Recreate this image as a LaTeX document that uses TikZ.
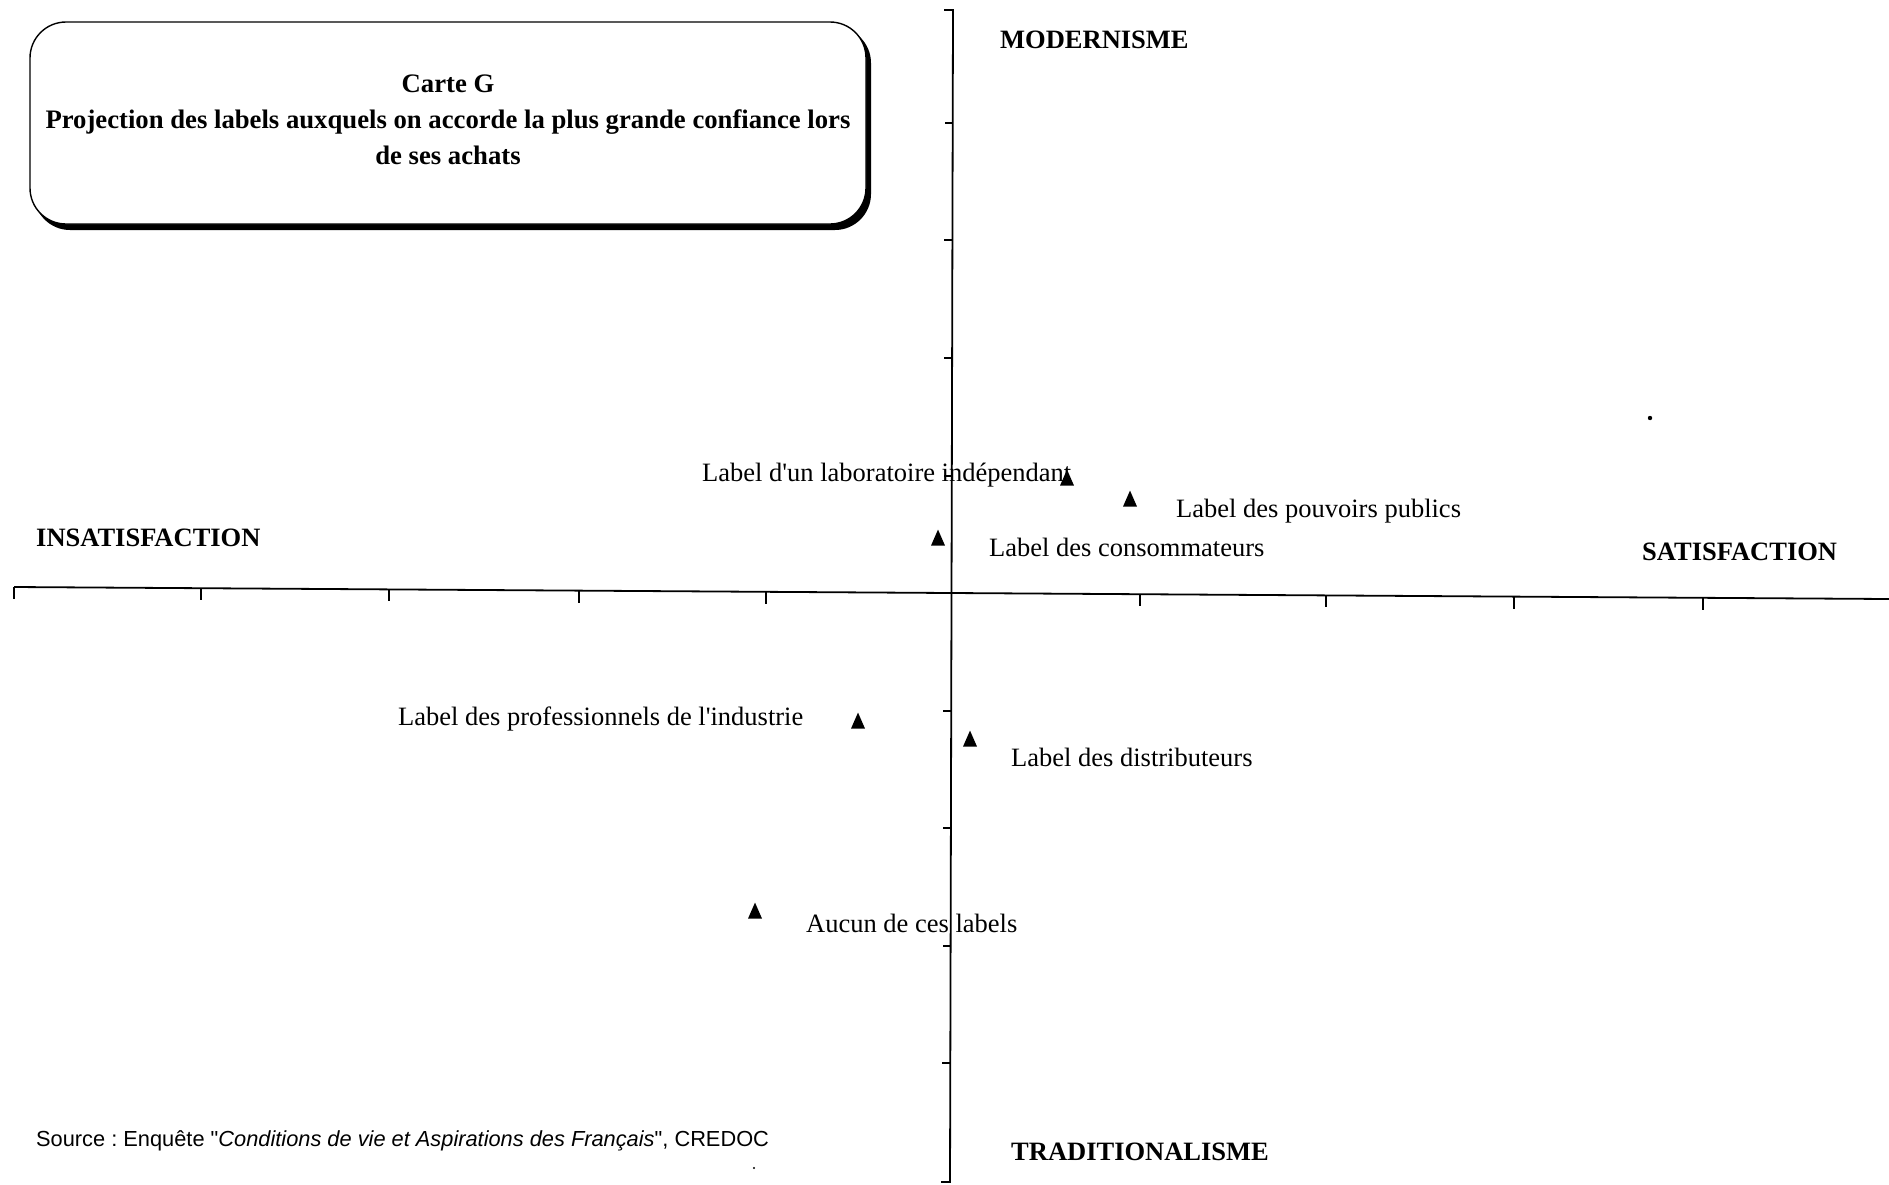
\documentclass[tikz,border=0pt]{standalone}
\usepackage{fontspec}
\setmainfont{Liberation Serif}[Ligatures=TeXOff]
\newfontfamily\srcfont{Liberation Sans}
\usetikzlibrary{shapes.geometric}
\frenchspacing
\begin{document}
\begin{tikzpicture}[x=1pt,y=-1pt,
  axisline/.style={line width=1.8pt},
  tickline/.style={line width=1.3pt},
  marker/.style={isosceles triangle, shape border rotate=90, isosceles triangle stretches,
    minimum width=14pt, minimum height=16pt, inner sep=0pt, fill=black, draw=none},
  ptlabel/.style={font=\fontsize{26.5}{30}\selectfont, anchor=west, inner sep=0pt},
  polelabel/.style={font=\fontsize{26.5}{30}\selectfont\bfseries, anchor=west, inner sep=0pt},
]
\useasboundingbox (0,0) rectangle (1889,1184);

% title frame with drop shadow
\fill[black, rounded corners=36pt] (34,27) rectangle (871,230);
\draw[fill=white, line width=1.4pt, rounded corners=36pt] (30,22) rectangle (866,224);
\node (title) [align=center, font=\fontsize{26.7}{36}\selectfont\bfseries] at (448,120)
  {Carte G\\Projection des labels auxquels on accorde la plus grande confiance lors\\de ses achats};

% axes
\coordinate (hL) at (14,587);
\coordinate (hR) at (1889,599);
\coordinate (vT) at (953,10);
\coordinate (vB) at (950,1182);
\draw[axisline] (hL) -- (hR);
\draw[axisline] ([xshift=-9pt]vT) -- (vT) -- (vB) -- ([xshift=-9pt]vB);
\foreach \x in {14,201,389,579,766,1140,1326,1514,1703}
  \draw[tickline] (\x,{587+(\x-14)*0.0064}) -- ++(0,12);
\foreach \y in {123,240,358,476,711,828,946,1063}
  \draw[tickline] ({953-(\y-10)*0.00256},\y) -- ++(-8,0);

% pole names
\node (mod) [polelabel] at (1000,40) {MODERNISME};
\node (insat) [polelabel] at (36,538) {INSATISFACTION};
\node (sat) [polelabel] at (1642,552) {SATISFACTION};
\node (trad) [polelabel] at (1011,1152) {TRADITIONALISME};

% projected labels
\node (m1) [marker] at (1067,481) {};
\node (m2) [marker] at (1130,502) {};
\node (m3) [marker] at (938,541) {};
\node (m4) [marker] at (858,724) {};
\node (m5) [marker] at (970,742) {};
\node (m6) [marker] at (755,914) {};
\node (t1) [ptlabel] at (702,475) {Label d'un laboratoire indépendant};
\node (t2) [ptlabel] at (1176,511) {Label des pouvoirs publics};
\node (t3) [ptlabel] at (989,547) {Label des consommateurs};
\node (t4) [ptlabel] at (398,719) {Label des professionnels de l'industrie};
\node (t5) [ptlabel] at (1011,757) {Label des distributeurs};
\node (t6) [ptlabel] at (806,923) {Aucun de ces labels};

% stray points
\fill (1650,418) circle (2.2pt);
\fill (754,1168) circle (1.2pt);

% source
\node (src) [anchor=west, inner sep=0pt, font=\srcfont\fontsize{21.8}{26}\selectfont] at (36,1141)
  {Source : Enquête "\textit{Conditions de vie et Aspirations des Français}", CREDOC};
\end{tikzpicture}
\end{document}
